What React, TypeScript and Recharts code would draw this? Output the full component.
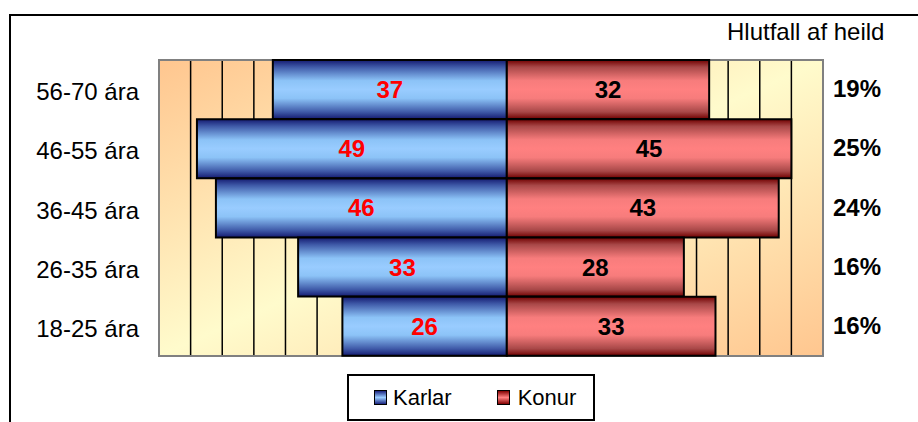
import React from 'react';
import { BarChart, Bar, XAxis, YAxis, CartesianGrid, Legend, LabelList, ReferenceArea } from 'recharts';

const ages = ['56-70 ára', '46-55 ára', '36-45 ára', '26-35 ára', '18-25 ára'];
const karlar = [37, 49, 46, 33, 26];
const konur = [32, 45, 43, 28, 33];
const hlutfall = ['19%', '25%', '24%', '16%', '16%'];
const xTicks = [-50, -45, -40, -35, -30, -25, -20, -15, -10, -5, 0, 5, 10, 15, 20, 25, 30, 35, 40, 45];

const data = ages.map((age, i) => ({ age, karlar: -karlar[i], konur: konur[i] }));
const pctByAge: Record<string, string> = {};
ages.forEach((a, i) => { pctByAge[a] = hlutfall[i]; });

const FONT = "Arial, 'Liberation Sans', sans-serif";

const LegendBox = () => (
  <div style={{
    boxSizing: 'border-box', width: 248, height: 47, border: '2px solid #000', background: '#fff',
    display: 'flex', alignItems: 'center', paddingLeft: 25, fontFamily: FONT, fontSize: 22, color: '#000'
  }}>
    <span style={{ display: 'inline-block', boxSizing: 'border-box', width: 13, height: 15, border: '1.5px solid #000', background: 'linear-gradient(to bottom, #1a237e, #99ccff 50%, #1a237e)', marginRight: 6 }} />
    <span style={{ marginRight: 45 }}>Karlar</span>
    <span style={{ display: 'inline-block', boxSizing: 'border-box', width: 13, height: 15, border: '1.5px solid #000', background: 'linear-gradient(to bottom, #800000, #ff8080 50%, #800000)', marginRight: 8 }} />
    <span>Konur</span>
  </div>
);

export default function App() {
  return (
    <div style={{ position: 'absolute', left: 0, top: 0, width: 918, height: 422, background: '#fff', overflow: 'hidden' }}>
      <div style={{ position: 'absolute', left: 9, top: 14, width: 930, height: 430, borderTop: '2px solid #000', borderLeft: '2px solid #000' }} />
      <div style={{ position: 'absolute', left: 727, top: 20, fontFamily: FONT, fontSize: 24, lineHeight: '24px', color: '#000', whiteSpace: 'nowrap' }}>Hlutfall af heild</div>
      <div style={{ position: 'absolute', left: 0, top: 0 }}>
        <BarChart width={918} height={422} data={data} layout="vertical" stackOffset="sign" barCategoryGap={0}
          margin={{ top: 60, right: 0, bottom: 19, left: 0 }}>
          <defs>
            <linearGradient id="bgGrad" x1="0" y1="0" x2="1" y2="1">
              <stop offset="0" stopColor="#ffc68f" />
              <stop offset="0.5" stopColor="#fffbcc" />
              <stop offset="1" stopColor="#ffc68f" />
            </linearGradient>
            <linearGradient id="blueGrad" x1="0" y1="0" x2="0" y2="1">
              <stop offset="0" stopColor="#141a70" />
              <stop offset="0.12" stopColor="#3f5aa8" />
              <stop offset="0.35" stopColor="#8cc3f7" />
              <stop offset="0.5" stopColor="#99ccff" />
              <stop offset="0.65" stopColor="#8cc3f7" />
              <stop offset="0.88" stopColor="#3f5aa8" />
              <stop offset="1" stopColor="#141a70" />
            </linearGradient>
            <linearGradient id="redGrad" x1="0" y1="0" x2="0" y2="1">
              <stop offset="0" stopColor="#700000" />
              <stop offset="0.12" stopColor="#a84848" />
              <stop offset="0.35" stopColor="#f77c7c" />
              <stop offset="0.5" stopColor="#ff8080" />
              <stop offset="0.65" stopColor="#f77c7c" />
              <stop offset="0.88" stopColor="#a84848" />
              <stop offset="1" stopColor="#700000" />
            </linearGradient>
          </defs>
          <CartesianGrid yAxisId="left" horizontal={false} vertical={true} stroke="#000" strokeWidth={1.5} fill="url(#bgGrad)" fillOpacity={1} />
          <XAxis type="number" domain={[-55, 50]} ticks={xTicks} height={0} tick={{ fontSize: 0 }} axisLine={false} tickLine={false} allowDataOverflow />
          <YAxis yAxisId="left" type="category" dataKey="age" width={159} axisLine={false} tickLine={false} tickSize={0} tickMargin={20}
            tick={{ fill: '#000', fontSize: 24, fontFamily: FONT, dy: 2 }} />
          <YAxis yAxisId="right" orientation="right" type="category" dataKey="age" width={95} axisLine={false} tickLine={false} tickSize={0} tickMargin={10}
            tickFormatter={(v: string) => pctByAge[v]}
            tick={{ fill: '#000', fontSize: 24, fontWeight: 'bold', fontFamily: FONT, textAnchor: 'start', dy: -1 }} />
          <Bar yAxisId="left" dataKey="karlar" name="Karlar" stackId="a" fill="url(#blueGrad)" stroke="#000" strokeWidth={2} isAnimationActive={false}>
            <LabelList dataKey="karlar" position="center" formatter={(v: any) => Math.abs(Number(v))}
              style={{ fill: '#ff0000', fontSize: 24, fontWeight: 'bold', fontFamily: FONT }} />
          </Bar>
          <Bar yAxisId="left" dataKey="konur" name="Konur" stackId="a" fill="url(#redGrad)" stroke="#000" strokeWidth={2} isAnimationActive={false}>
            <LabelList dataKey="konur" position="center"
              style={{ fill: '#000', fontSize: 24, fontWeight: 'bold', fontFamily: FONT }} />
          </Bar>
          <ReferenceArea yAxisId="left" x1={-55} x2={50} fill="none" stroke="#808080" strokeWidth={2} ifOverflow="visible" />
          <Legend content={() => <LegendBox />} wrapperStyle={{ left: 347, top: 374, width: 248, height: 47, bottom: 'auto' }} />
        </BarChart>
      </div>
    </div>
  );
}
